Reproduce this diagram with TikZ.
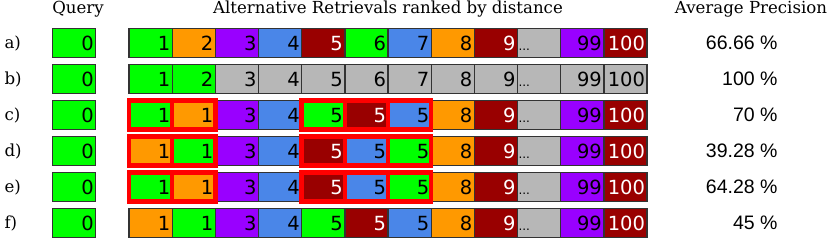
\documentclass[tikz,border=0pt]{standalone}
\usepackage{fontspec}
\setmainfont{DejaVu Serif}
\newfontfamily\cellfont{DejaVu Sans}
\newfontfamily\apfont{Liberation Sans}
\usetikzlibrary{positioning}

\definecolor{qgreen}{HTML}{00FF00}
\definecolor{qorange}{HTML}{FF9900}
\definecolor{qpurple}{HTML}{9900FF}
\definecolor{qblue}{HTML}{4A86E8}
\definecolor{qred}{HTML}{990000}
\definecolor{qgray}{HTML}{B7B7B7}
\newcommand{\skipdots}{...}

\begin{document}
\begin{tikzpicture}[x=1pt, y=-1pt, font=\fontsize{16.6}{20}\selectfont,
  cell/.style={draw=black!80, line width=1.3pt, outer sep=0pt, inner xsep=2pt, inner ysep=0pt,
    text width=39.17pt, align=right, text height=22pt, text depth=7pt, minimum height=29pt,
    font=\cellfont\fontsize{19.5}{22}\selectfont},
  G/.style={cell, fill=qgreen},
  O/.style={cell, fill=qorange},
  P/.style={cell, fill=qpurple},
  B/.style={cell, fill=qblue},
  R/.style={cell, fill=qred, text=white},
  Y/.style={cell, fill=qgray},
  D/.style={cell, fill=qgray, align=left, inner xsep=1pt, text width=41.17pt,
    font=\cellfont\fontsize{12}{12}\selectfont},
  hit/.style={draw=red, line width=4.5pt},
  head/.style={anchor=base},
  tag/.style={anchor=base west},
  ap/.style={anchor=base east, font=\apfont\fontsize{19.5}{22}\selectfont}]

\useasboundingbox (0,0) rectangle (830,240);

% column headings
\node[head] (hq) at (78, 13.5) {Query};
\node[head] (hr) at (388, 13.5) {Alternative Retrievals ranked by distance};
\node[head] (hp) at (751, 13.5) {Average Precision};

% a) mixed ranking
\node[tag] (la) at (1, 48.8) {a)};
\node[G] (a0) at (74.2, 42.8) {0};
\foreach \s/\t [count=\i] in {G/1, O/2, P/3, B/4, R/5, G/6, B/7, O/8, R/9, D/\skipdots, P/99, R/100}
  \node[\s] (a\i) at (107.415+43.17*\i, 42.8) {\t};
\node[ap] (pa) at (781, 49.3) {66.66 \%};

% b) only the relevant ones coloured
\node[tag] (lb) at (1, 84.8) {b)};
\node[G] (b0) at (74.2, 78.8) {0};
\foreach \s/\t [count=\i] in {G/1, G/2, Y/3, Y/4, Y/5, Y/6, Y/7, Y/8, Y/9, D/\skipdots, Y/99, Y/100}
  \node[\s] (b\i) at (107.415+43.17*\i, 78.8) {\t};
\node[ap] (pb) at (781, 85.3) {100 \%};

% c) ties at equal distance
\node[tag] (lc) at (1, 120.8) {c)};
\node[G] (c0) at (74.2, 114.8) {0};
\foreach \s/\t [count=\i] in {G/1, O/1, P/3, B/4, G/5, R/5, B/5, O/8, R/9, D/\skipdots, P/99, R/100}
  \node[\s] (c\i) at (107.415+43.17*\i, 114.8) {\t};
\node[ap] (pc) at (781, 121.3) {70 \%};

% d) worst order inside the ties
\node[tag] (ld) at (1, 156.8) {d)};
\node[G] (d0) at (74.2, 150.8) {0};
\foreach \s/\t [count=\i] in {O/1, G/1, P/3, B/4, R/5, B/5, G/5, O/8, R/9, D/\skipdots, P/99, R/100}
  \node[\s] (d\i) at (107.415+43.17*\i, 150.8) {\t};
\node[ap] (pd) at (781, 157.3) {39.28 \%};

% e)
\node[tag] (le) at (1, 192.8) {e)};
\node[G] (e0) at (74.2, 186.8) {0};
\foreach \s/\t [count=\i] in {G/1, O/1, P/3, B/4, R/5, B/5, G/5, O/8, R/9, D/\skipdots, P/99, R/100}
  \node[\s] (e\i) at (107.415+43.17*\i, 186.8) {\t};
\node[ap] (pe) at (781, 193.3) {64.28 \%};

% f)
\node[tag] (lf) at (1, 228.8) {f)};
\node[G] (f0) at (74.2, 222.8) {0};
\foreach \s/\t [count=\i] in {O/1, G/1, P/3, B/4, G/5, R/5, B/5, O/8, R/9, D/\skipdots, P/99, R/100}
  \node[\s] (f\i) at (107.415+43.17*\i, 222.8) {\t};
\node[ap] (pf) at (781, 229.3) {45 \%};

% red frames round the tied groups
\foreach \r in {c, d, e}
  \foreach \i in {1, 2, 5, 6, 7}
    \draw[hit] (\r\i.north west) rectangle (\r\i.south east);

\end{tikzpicture}
\end{document}
